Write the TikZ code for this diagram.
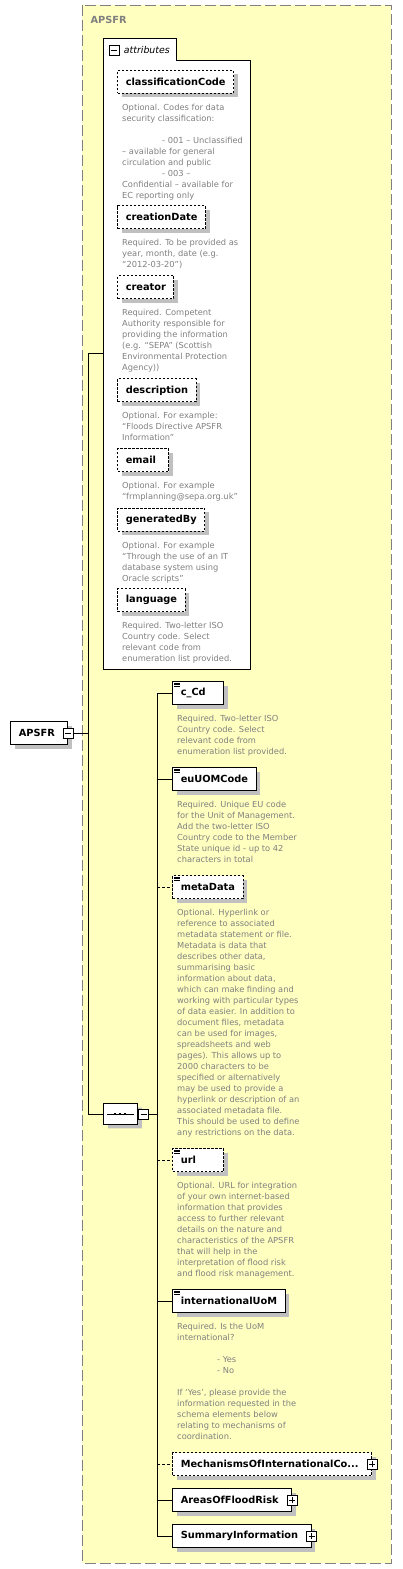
\documentclass[tikz,border=0pt]{standalone}
\usepackage{fontspec}
\setmainfont{DejaVu Sans}
\usetikzlibrary{positioning,shadows,shapes.misc}

\definecolor{panel}{RGB}{255,255,192}
\definecolor{framegray}{RGB}{128,128,128}
\definecolor{notegray}{RGB}{128,128,128}
\definecolor{shadowgray}{RGB}{192,192,192}

\newcommand\elemfont{\bfseries\fontsize{9.8}{12}\selectfont}
\newcommand\notefont{\fontsize{8.3}{11}\selectfont}
\newcommand\textmark[1]{\foreach \k in {1.6,3.3,5} \draw[line width=0.7pt] ([shift={(1.8,\k)}]#1.north west) -- ++(5.5,0);}

\begin{document}
\begin{tikzpicture}[x=1pt, y=-1pt, line width=1pt,
  boxshadow/.style={drop shadow={shadow xshift=4pt, shadow yshift=-4pt, fill=shadowgray, opacity=1}},
  elem/.style={draw, fill=white, anchor=north west, font=\elemfont, minimum height=23pt, inner xsep=8pt, inner ysep=0pt, boxshadow},
  short/.style={text width=35pt},
  dashedline/.style={dash pattern=on 2.5pt off 1.5pt},
  opt/.style={elem, dashedline},
  cplx/.style={elem, execute at end node={\hspace*{5pt}}},
  note/.style={anchor=north west, align=left, inner sep=0pt, font=\notefont, text=notegray},
  toggle/.style={draw, fill=white, line width=0.8pt, minimum size=10pt, inner sep=0pt},
  minus/.style={toggle, path picture={\draw ([xshift=2pt]path picture bounding box.west) -- ([xshift=-2pt]path picture bounding box.east);}},
  plus/.style={toggle, path picture={\draw ([xshift=2pt]path picture bounding box.west) -- ([xshift=-2pt]path picture bounding box.east); \draw ([yshift=2pt]path picture bounding box.south) -- ([yshift=-2pt]path picture bounding box.north);}},
  optlink/.style={dash pattern=on 3pt off 2pt}
]
\path[use as bounding box] (0,0) rectangle (402,1569);

\draw[fill=panel, draw=framegray, dash pattern=on 11pt off 4pt] (82.3,5.3) rectangle (391.3,1563);
\node[anchor=west, inner sep=0pt, font=\elemfont, text=framegray] (title) at (90,19.5) {APSFR};

\node[minimum width=146pt, minimum height=630pt, inner sep=0pt, anchor=north west] (attr) at (103.3,38.3) {};
\draw[fill=white] (attr.north west) -- ++(73,0) -- ++(0,22) -| (attr.south east) -| (attr.north west) -- cycle;
\node[minus] (attrpm) at (114,50) {};
\node[right=4pt of attrpm, inner sep=0pt, font=\itshape\fontsize{9.4}{11}\selectfont] (attrlabel) {attributes};

\node[opt] (classif) at (117.3,69.7) {classificationCode};
\node[note] at ([shift={(4.4,9.8)}]classif.south west) {Optional. Codes for data\\security classification:\\[11pt]\hspace*{40pt}- 001 – Unclassified\\– available for general\\circulation and public\\\hspace*{40pt}- 003 –\\Confidential – available for\\EC reporting only};

\node[opt] (created) at (117.3,205.3) {creationDate};
\node[note] at ([shift={(4.4,9.8)}]created.south west) {Required. To be provided as\\year, month, date (e.g.\\“2012-03-20”)};

\node[opt] (creator) at (117.3,275.3) {creator};
\node[note] at ([shift={(4.4,9.8)}]creator.south west) {Required. Competent\\Authority responsible for\\providing the information\\(e.g. “SEPA” (Scottish\\Environmental Protection\\Agency))};

\node[opt] (descr) at (117.3,378.3) {description};
\node[note] at ([shift={(4.4,9.8)}]descr.south west) {Optional. For example:\\“Floods Directive APSFR\\Information”};

\node[opt, short] (email) at (117.3,448.3) {email};
\node[note] at ([shift={(4.4,9.8)}]email.south west) {Optional. For example\\“frmplanning@sepa.org.uk”};

\node[opt] (genby) at (117.3,507.7) {generatedBy};
\node[note] at ([shift={(4.4,9.8)}]genby.south west) {Optional. For example\\“Through the use of an IT\\database system using\\Oracle scripts”};

\node[opt] (lang) at (117.3,588.3) {language};
\node[note] at ([shift={(4.4,9.8)}]lang.south west) {Required. Two-letter ISO\\Country code. Select\\relevant code from\\enumeration list provided.};

\node[cplx, anchor=west] (root) at (10.3,733) {APSFR};
\node[minus] (rootpm) at (root.east) {};
\coordinate (trunk) at (88.3,733);

\node[draw, fill=white, chamfered rectangle, chamfered rectangle sep=4pt, minimum width=34pt, minimum height=20.7pt, inner sep=0pt, boxshadow, anchor=west] (seq) at (103.3,1114) {};
\draw ([xshift=4pt]seq.west) -- ([xshift=-4pt]seq.east);
\foreach \d in {-6,-1,4} \fill ([xshift=\d pt]seq.center) ++(-1.3,-1.3) rectangle ++(2.6,2.6);
\node[minus, right=0pt of seq] (seqpm) {};
\coordinate (spine) at (157.3,1114);

\draw (rootpm.east) -- (trunk);
\draw (attr.west) -| (trunk) |- (seq.west);
\draw (seqpm.east) -- (spine);

\node[elem, short] (ccd) at (172.3,681.3) {c\_Cd};
\textmark{ccd}
\node[note] at ([shift={(4.4,9.8)}]ccd.south west) {Required. Two-letter ISO\\Country code. Select\\relevant code from\\enumeration list provided.};

\node[elem] (euuom) at (172.3,767.3) {euUOMCode};
\textmark{euuom}
\node[note] at ([shift={(4.4,9.8)}]euuom.south west) {Required. Unique EU code\\for the Unit of Management.\\Add the two-letter ISO\\Country code to the Member\\State unique id - up to 42\\characters in total};

\node[opt] (meta) at (172.3,875.3) {metaData};
\textmark{meta}
\node[note] at ([shift={(4.4,9.8)}]meta.south west) {Optional. Hyperlink or\\reference to associated\\metadata statement or file.\\Metadata is data that\\describes other data,\\summarising basic\\information about data,\\which can make finding and\\working with particular types\\of data easier. In addition to\\document files, metadata\\can be used for images,\\spreadsheets and web\\pages). This allows up to\\2000 characters to be\\specified or alternatively\\may be used to provide a\\hyperlink or description of an\\associated metadata file.\\This should be used to define\\any restrictions on the data.};

\node[opt, short] (url) at (172.3,1148.3) {url};
\textmark{url}
\node[note] at ([shift={(4.4,9.8)}]url.south west) {Optional. URL for integration\\of your own internet-based\\information that provides\\access to further relevant\\details on the nature and\\characteristics of the APSFR\\that will help in the\\interpretation of flood risk\\and flood risk management.};

\node[elem] (intuom) at (172.3,1289.3) {internationalUoM};
\textmark{intuom}
\node[note] at ([shift={(4.4,9.8)}]intuom.south west) {Required. Is the UoM\\international?\\[11pt]\hspace*{40pt}- Yes\\\hspace*{40pt}- No\\[11pt]If ‘Yes’, please provide the\\information requested in the\\schema elements below\\relating to mechanisms of\\coordination.};

\node[cplx, dashedline] (mech) at (172.3,1452.3) {MechanismsOfInternationalCo...};
\node[plus] (mechpm) at (mech.east) {};

\node[cplx] (areas) at (172.3,1488.3) {AreasOfFloodRisk};
\node[plus] (areaspm) at (areas.east) {};

\node[cplx] (suminfo) at (172.3,1524.3) {SummaryInformation};
\node[plus] (suminfopm) at (suminfo.east) {};

\draw (spine |- ccd.west) -- (spine |- suminfo.west);
\foreach \e in {ccd,euuom,intuom,areas,suminfo} \draw (spine |- \e.west) -- (\e.west);
\foreach \e in {meta,url,mech} \draw[optlink] (spine |- \e.west) -- (\e.west);

\end{tikzpicture}
\end{document}
